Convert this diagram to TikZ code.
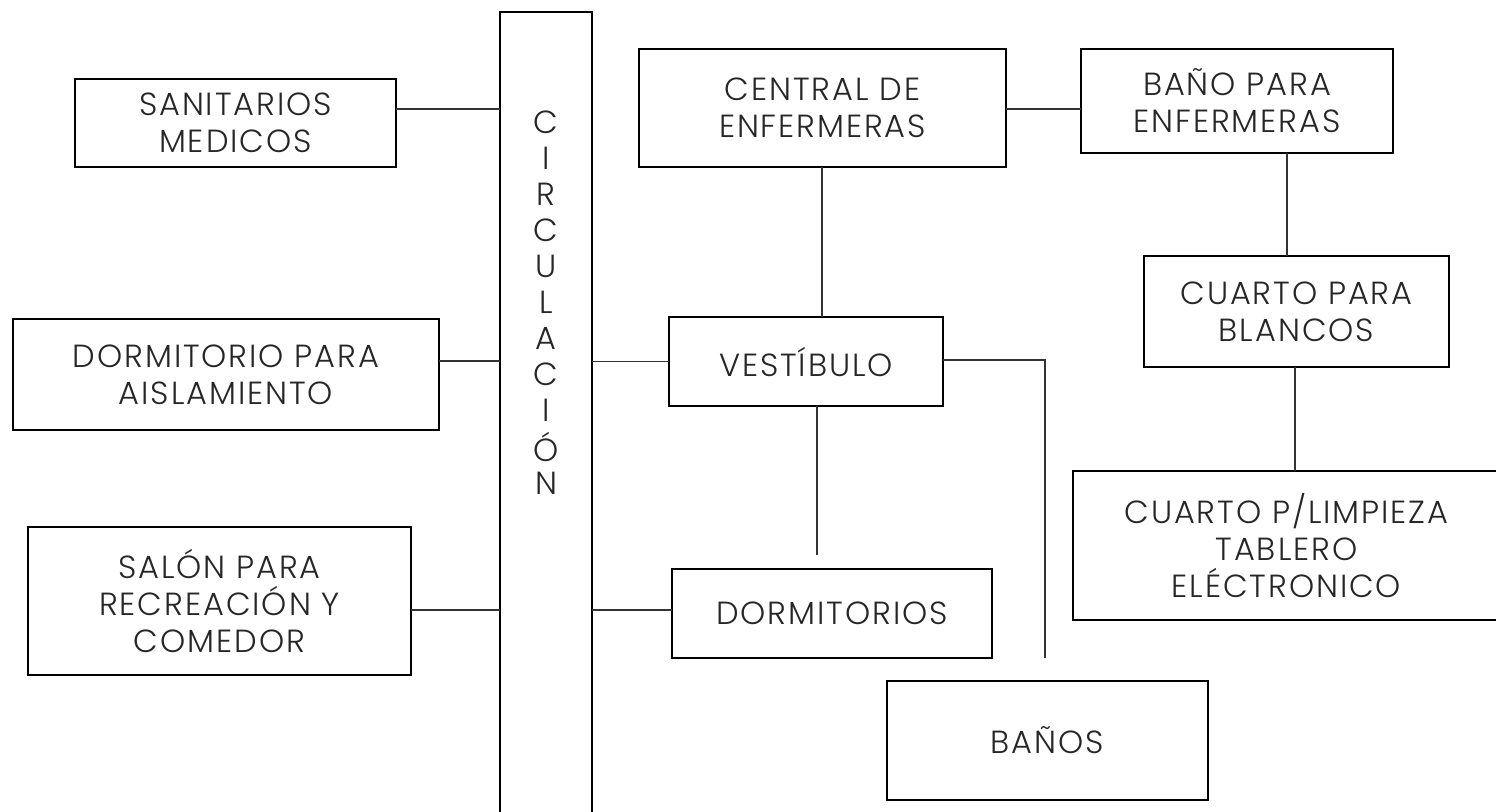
\documentclass[tikz,border=0pt]{standalone}
\usepackage{fontspec}
\setmainfont{Poppins}[UprightFont=* Light, LetterSpace=6]
\begin{document}
\begin{tikzpicture}[x=1pt, y=-1pt,
  every node/.style={font=\fontsize{32}{37}\selectfont, text=black!85},
  room/.style={draw, line width=1.4pt, align=center, inner sep=0pt, outer sep=0pt},
  link/.style={line width=1.4pt, black!80},
  letter/.style={inner sep=0pt}]
  \useasboundingbox (0,0) rectangle (1496,811);
  % corridor with its vertical label
  \node[room, minimum width=92, minimum height=818] (circ) at (546,421) {};
  \foreach \ch [count=\i from 0] in {C,I,R,C,U,L,A,C,I,Ó,N}
    \node[letter] (let\i) at (546,122+36.1*\i) {\ch};
  % rooms on the left
  \node[room, minimum width=321, minimum height=88]  (sanit) at (235.5,123) {SANITARIOS\\MEDICOS};
  \node[room, minimum width=426, minimum height=111] (aisl)  at (226,374.5) {DORMITORIO PARA\\AISLAMIENTO};
  \node[room, minimum width=383, minimum height=148] (salon) at (219.5,601) {SALÓN PARA\\RECREACIÓN Y\\COMEDOR};
  % rooms on the right
  \node[room, minimum width=367, minimum height=118] (central) at (822.5,108) {CENTRAL DE\\ENFERMERAS};
  \node[room, minimum width=312, minimum height=104] (banoenf) at (1237,101) {BAÑO PARA\\ENFERMERAS};
  \node[room, minimum width=305, minimum height=111] (blancos) at (1296.5,311.5) {CUARTO PARA\\BLANCOS};
  \node[room, minimum width=427, minimum height=149] (limpieza) at (1286.5,545.5) {CUARTO P/LIMPIEZA\\TABLERO\\ELÉCTRONICO};
  \node[room, minimum width=274, minimum height=89]  (vest) at (806,361.5) {VESTÍBULO};
  \node[room, minimum width=320, minimum height=89]  (dorm) at (832,613.5) {DORMITORIOS};
  \node[room, minimum width=321, minimum height=119] (banos) at (1047.5,740.5) {BAÑOS};
  % open ends
  \coordinate (vdrop) at (817,555);
  \coordinate (bdrop) at (1045,658);
  % connections
  \draw[link] (sanit.east |- 0,109) -- (circ.west |- 0,109);
  \draw[link] (aisl.east |- 0,361) -- (circ.west |- 0,361);
  \draw[link] (salon.east |- 0,610) -- (circ.west |- 0,610);
  \draw[link] (circ.east |- vest.west) -- (vest.west);
  \draw[link] (circ.east |- 0,610) -- (dorm.west |- 0,610);
  \draw[link] (central.south -| 822,0) -- (vest.north -| 822,0);
  \draw[link] (vest.south -| vdrop) -- (vdrop);
  \draw[link] (vest.east |- 0,360) -| (bdrop);
  \draw[link] (central.east |- 0,109) -- (banoenf.west |- 0,109);
  \draw[link] (banoenf.south -| 1287,0) -- (blancos.north -| 1287,0);
  \draw[link] (blancos.south -| 1295,0) -- (limpieza.north -| 1295,0);
\end{tikzpicture}
\end{document}
